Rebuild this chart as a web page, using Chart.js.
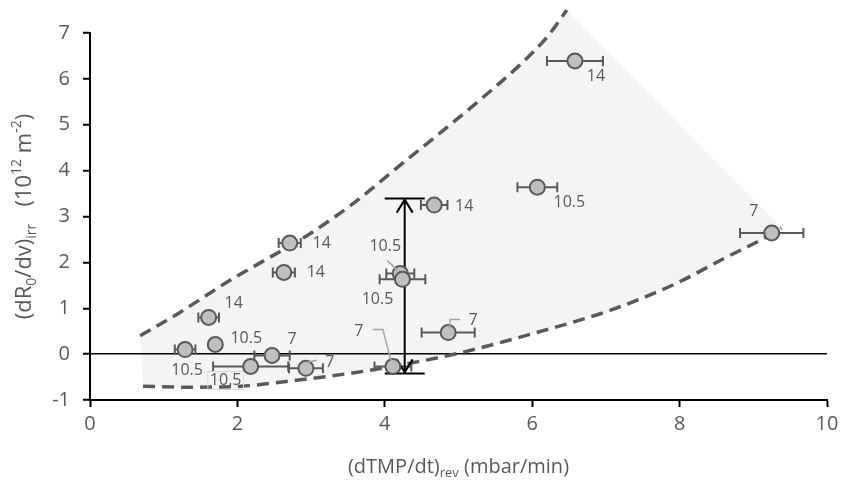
<!DOCTYPE html>
<html>
<head>
<meta charset="utf-8">
<script src="https://cdn.jsdelivr.net/npm/chart.js@4.4.1/dist/chart.umd.min.js"></script>
<style>
  html, body { margin: 0; padding: 0; background: #fff; }
</style>
</head>
<body>
<canvas id="chart" width="847" height="488"></canvas>
<script>
// measured points (dTMP/dt rev vs dR0/dv irr), labelled by flux
const xRate   = [6.58, 6.07, 9.25, 4.67, 2.71, 2.63, 1.61, 1.29, 1.70, 2.47, 2.18, 2.93, 4.21, 4.24, 4.86, 4.11];
const yResist = [6.39, 3.64, 2.64, 3.25, 2.42, 1.78, 0.80, 0.10, 0.21, -0.03, -0.27, -0.31, 1.76, 1.63, 0.47, -0.27];
const xError  = [0.38, 0.27, 0.43, 0.18, 0.15, 0.15, 0.14, 0.14, 0, 0.24, 0.51, 0.23, 0.19, 0.31, 0.36, 0.25];
const fluxLabels = ['14', '10.5', '7', '14', '14', '14', '14', '10.5', '10.5', '7', '10.5', '7', '10.5', '10.5', '7', '7'];

// envelope curves
const upperX = [0.68, 1.22, 1.90, 2.44, 2.99, 3.60, 4.21, 4.68, 5.29, 5.83, 6.20, 6.47];
const upperY = [0.40, 0.91, 1.61, 2.11, 2.63, 3.32, 4.12, 4.73, 5.54, 6.30, 6.91, 7.50];
const lowerX = [0.72, 1.30, 2.05, 2.69, 3.20, 3.73, 4.40, 5.00, 5.99, 7.03, 7.94, 8.62, 9.16, 9.38];
const lowerY = [-0.70, -0.72, -0.70, -0.59, -0.49, -0.37, -0.18, 0.02, 0.44, 0.94, 1.53, 2.10, 2.54, 2.75];

// double arrow
const arrowX = 4.27;
const arrowFrom = -0.42;
const arrowTo = 3.39;

const xTicks = [0, 2, 4, 6, 8, 10];
const yTicks = [-1, 0, 1, 2, 3, 4, 5, 6, 7];

const grey = '#595959';
Chart.defaults.font.family = "'Open Sans', sans-serif";

// shaded band between the two curves
const shadePlugin = {
  id: 'shade',
  beforeDraw(chart) {
    const { ctx, scales: { x, y } } = chart;
    ctx.save();
    ctx.beginPath();
    upperX.forEach((v, i) => {
      const px = x.getPixelForValue(v), py = y.getPixelForValue(upperY[i]);
      if (i === 0) ctx.moveTo(px, py); else ctx.lineTo(px, py);
    });
    for (let i = lowerX.length - 1; i >= 0; i--) {
      ctx.lineTo(x.getPixelForValue(lowerX[i]), y.getPixelForValue(lowerY[i]));
    }
    ctx.closePath();
    ctx.fillStyle = '#f4f4f4';
    ctx.fill();
    ctx.restore();
  }
};

// error bars + the vertical arrow, under the markers
const barsPlugin = {
  id: 'bars',
  beforeDatasetDraw(chart, args) {
    if (args.index !== 0) return;
    const { ctx, scales: { x, y } } = chart;
    ctx.save();
    ctx.strokeStyle = grey;
    ctx.lineWidth = 2;
    xRate.forEach((v, i) => {
      if (!xError[i]) return;
      const py = y.getPixelForValue(yResist[i]);
      const x1 = x.getPixelForValue(v - xError[i]);
      const x2 = x.getPixelForValue(v + xError[i]);
      ctx.beginPath();
      ctx.moveTo(x1, py); ctx.lineTo(x2, py);
      ctx.moveTo(x1, py - 5); ctx.lineTo(x1, py + 5);
      ctx.moveTo(x2, py - 5); ctx.lineTo(x2, py + 5);
      ctx.stroke();
    });

    const ax = x.getPixelForValue(arrowX);
    const yTop = y.getPixelForValue(arrowTo);
    const yBot = y.getPixelForValue(arrowFrom);
    ctx.strokeStyle = '#000';
    ctx.lineWidth = 2;
    ctx.beginPath();
    ctx.moveTo(ax, yTop); ctx.lineTo(ax, yBot);
    ctx.moveTo(ax - 20, yTop); ctx.lineTo(ax + 20, yTop);
    ctx.moveTo(ax - 20, yBot); ctx.lineTo(ax + 20, yBot);
    ctx.moveTo(ax - 8, yTop + 14); ctx.lineTo(ax, yTop + 1); ctx.lineTo(ax + 8, yTop + 14);
    ctx.moveTo(ax - 8, yBot - 14); ctx.lineTo(ax, yBot - 1); ctx.lineTo(ax + 8, yBot - 14);
    ctx.stroke();
    ctx.restore();
  }
};

// flux labels next to each point
const labelOffsets = [[21, 15], [32, 15], [-18, -22], [30, 1], [32, 0], [32, 0], [25, -14], [2, 21],
  [31, -6], [20, -16], [-25, 14], [24, -6], [-15, -27], [-25, 20], [25, -12], [-34, -35]];
const leaders = {
  11: [[11, -8], [1, -6]],
  12: [[-13, -13], [-3, -3]],
  14: [[12, -13], [2, -13], [1, -4]],
  15: [[-20, -37], [-10, -37], [-2, -6]]
};
const labelPlugin = {
  id: 'pointLabels',
  afterDatasetsDraw(chart) {
    const { ctx, scales: { x, y } } = chart;
    ctx.save();
    ctx.strokeStyle = '#a6a6a6';
    ctx.lineWidth = 1.5;
    Object.keys(leaders).forEach(k => {
      const px = x.getPixelForValue(xRate[k]), py = y.getPixelForValue(yResist[k]);
      ctx.beginPath();
      leaders[k].forEach((p, j) => {
        if (j === 0) ctx.moveTo(px + p[0], py + p[1]); else ctx.lineTo(px + p[0], py + p[1]);
      });
      ctx.stroke();
    });
    ctx.font = "16px 'Open Sans'";
    ctx.fillStyle = grey;
    ctx.textAlign = 'center';
    ctx.textBaseline = 'middle';
    fluxLabels.forEach((t, i) => {
      const px = x.getPixelForValue(xRate[i]) + labelOffsets[i][0];
      const py = y.getPixelForValue(yResist[i]) + labelOffsets[i][1];
      if (i === 10) {
        const w = ctx.measureText(t).width;
        ctx.strokeStyle = '#d9d9d9';
        ctx.lineWidth = 1;
        ctx.strokeRect(px - w / 2 - 2, py - 9, w + 4, 18);
      }
      ctx.fillText(t, px, py);
    });
    ctx.restore();
  }
};

// axis titles with sub/superscripts
function drawRich(ctx, parts, cx, cy, size) {
  const big = size + "px 'Open Sans'", small = Math.round(size * 0.65) + "px 'Open Sans'";
  let total = 0;
  parts.forEach(p => { ctx.font = p[1] ? small : big; total += ctx.measureText(p[0]).width; });
  let cur = cx - total / 2;
  parts.forEach(p => {
    ctx.font = p[1] ? small : big;
    const off = p[1] === 'sub' ? size * 0.32 : p[1] === 'sup' ? -size * 0.36 : 0;
    ctx.fillText(p[0], cur, cy + off);
    cur += ctx.measureText(p[0]).width;
  });
}
const titlePlugin = {
  id: 'titles',
  afterDraw(chart) {
    const { ctx, chartArea: a } = chart;
    ctx.save();
    ctx.fillStyle = grey;
    ctx.textAlign = 'left';
    ctx.textBaseline = 'middle';
    drawRich(ctx, [['(dTMP/dt)'], ['rev', 'sub'], [' (mbar/min)']], (a.left + a.right) / 2, 467, 20);
    ctx.translate(25, (a.top + a.bottom) / 2);
    ctx.rotate(-Math.PI / 2);
    drawRich(ctx, [['(dR'], ['0', 'sub'], ['/dv)'], ['irr', 'sub'], ['   (10'], ['12', 'sup'], [' m'], ['-2', 'sup'], [')']], 0, 0, 22);
    ctx.restore();
  }
};

new Chart(document.getElementById('chart'), {
  type: 'scatter',
  data: {
    datasets: [
      {
        data: xRate.map((v, i) => ({ x: v, y: yResist[i] })),
        pointRadius: 7.5,
        pointBorderWidth: 2,
        backgroundColor: '#bfbfbf',
        borderColor: grey,
        order: 0
      },
      {
        data: upperX.map((v, i) => ({ x: v, y: upperY[i] })),
        showLine: true,
        pointRadius: 0,
        borderColor: grey,
        borderWidth: 3.5,
        borderDash: [12, 7],
        cubicInterpolationMode: 'monotone',
        clip: false,
        order: 1
      },
      {
        data: lowerX.map((v, i) => ({ x: v, y: lowerY[i] })),
        showLine: true,
        pointRadius: 0,
        borderColor: grey,
        borderWidth: 3.5,
        borderDash: [12, 7],
        cubicInterpolationMode: 'monotone',
        clip: false,
        order: 1
      }
    ]
  },
  options: {
    responsive: false,
    animation: false,
    layout: { padding: { top: 33, right: 20, left: 0, bottom: 0 } },
    plugins: { legend: { display: false }, tooltip: { enabled: false } },
    scales: {
      x: {
        type: 'linear',
        min: 0,
        max: 10,
        afterBuildTicks: s => { s.ticks = xTicks.map(v => ({ value: v })); },
        afterFit: s => { s.height = 88; },
        ticks: { color: grey, font: { size: 20 }, padding: 5 },
        grid: { drawOnChartArea: false, tickLength: 7, tickColor: '#000', tickWidth: 2 },
        border: { color: '#000', width: 2 }
      },
      y: {
        type: 'linear',
        min: -1,
        max: 7,
        afterBuildTicks: s => { s.ticks = yTicks.map(v => ({ value: v })); },
        afterFit: s => { s.width = 90; },
        ticks: { color: grey, font: { size: 20 }, padding: 13 },
        grid: {
          color: c => (c.tick && c.tick.value === 0 ? '#000' : 'rgba(0,0,0,0)'),
          lineWidth: 1.5,
          tickLength: 7,
          tickColor: '#000',
          tickWidth: 2
        },
        border: { color: '#000', width: 2 }
      }
    }
  },
  plugins: [shadePlugin, barsPlugin, labelPlugin, titlePlugin]
});
</script>
</body>
</html>
